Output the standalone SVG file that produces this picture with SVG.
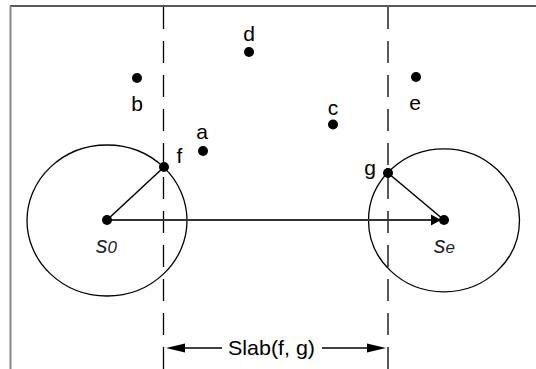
<svg xmlns="http://www.w3.org/2000/svg" width="536" height="369" viewBox="0 0 536 369">
<defs>
<style>
.lbl{font-family:"Liberation Sans",Arial,sans-serif;font-size:21px;fill:#000;text-anchor:middle}
.sub{font-family:"Liberation Sans",Arial,sans-serif;font-style:italic;fill:#222}
.dot{fill:#000}
.dash{stroke:#000;stroke-width:1.3;stroke-dasharray:22 12;fill:none}
.circ{fill:none;stroke:#000;stroke-width:1.3}
.rad{stroke:#000;stroke-width:1.5}
.head{fill:#000}
</style>
</defs>
<rect width="536" height="369" fill="#fff"/>
<g id="frame">
<line x1="10" y1="6" x2="536" y2="6" stroke="#222" stroke-width="1.5"/>
<line x1="10.5" y1="6" x2="10.5" y2="369" stroke="#888" stroke-width="2"/>
</g>
<g id="slabs">
<line class="dash" x1="163.5" y1="7" x2="163.5" y2="369"/>
<line class="dash" x1="388" y1="7" x2="388" y2="369"/>
</g>
<g id="circle-s0"><ellipse class="circ" cx="107" cy="220.5" rx="80" ry="75.5"/></g>
<g id="circle-se"><ellipse class="circ" cx="444" cy="220.3" rx="75.5" ry="71.5"/></g>
<g id="connectors">
<line class="rad" x1="107" y1="220" x2="164" y2="167"/>
<line class="rad" x1="388" y1="173" x2="444" y2="220"/>
<line x1="107" y1="220" x2="432" y2="220" stroke="#333" stroke-width="2"/>
<polygon class="head" points="431,214.5 441,220 431,225.5"/>
<line x1="182" y1="348" x2="222" y2="348" stroke="#000" stroke-width="1.5"/>
<polygon class="head" points="166,348 185,343.5 185,352.5"/>
<line x1="322" y1="348" x2="368" y2="348" stroke="#000" stroke-width="1.5"/>
<polygon class="head" points="386,348 367,343.5 367,352.5"/>
</g>
<g id="node-a"><circle class="dot" cx="203" cy="151" r="5"/><text class="lbl" x="202" y="139">a</text></g>
<g id="node-b"><circle class="dot" cx="137" cy="78" r="5"/><text class="lbl" x="137" y="111">b</text></g>
<g id="node-c"><circle class="dot" cx="333" cy="124.5" r="5"/><text class="lbl" x="333" y="115">c</text></g>
<g id="node-d"><circle class="dot" cx="249" cy="52" r="5"/><text class="lbl" x="249" y="41">d</text></g>
<g id="node-e"><circle class="dot" cx="416" cy="77" r="5"/><text class="lbl" x="415" y="110">e</text></g>
<g id="node-f"><circle class="dot" cx="164" cy="167" r="5"/><text class="lbl" x="179.5" y="163">f</text></g>
<g id="node-g"><circle class="dot" cx="388" cy="173" r="5"/><text class="lbl" x="370" y="175">g</text></g>
<g id="node-s0"><circle class="dot" cx="107" cy="220" r="5"/><text class="sub" x="96" y="253" font-size="23">s<tspan font-size="17">0</tspan></text></g>
<g id="node-se"><circle class="dot" cx="444" cy="220" r="5"/><text class="sub" x="434" y="253" font-size="23">s<tspan font-size="17">e</tspan></text></g>
<g id="slab-label"><text class="lbl" x="271.5" y="355" font-size="21" textLength="87" lengthAdjust="spacingAndGlyphs">Slab(f, g)</text></g>
</svg>
